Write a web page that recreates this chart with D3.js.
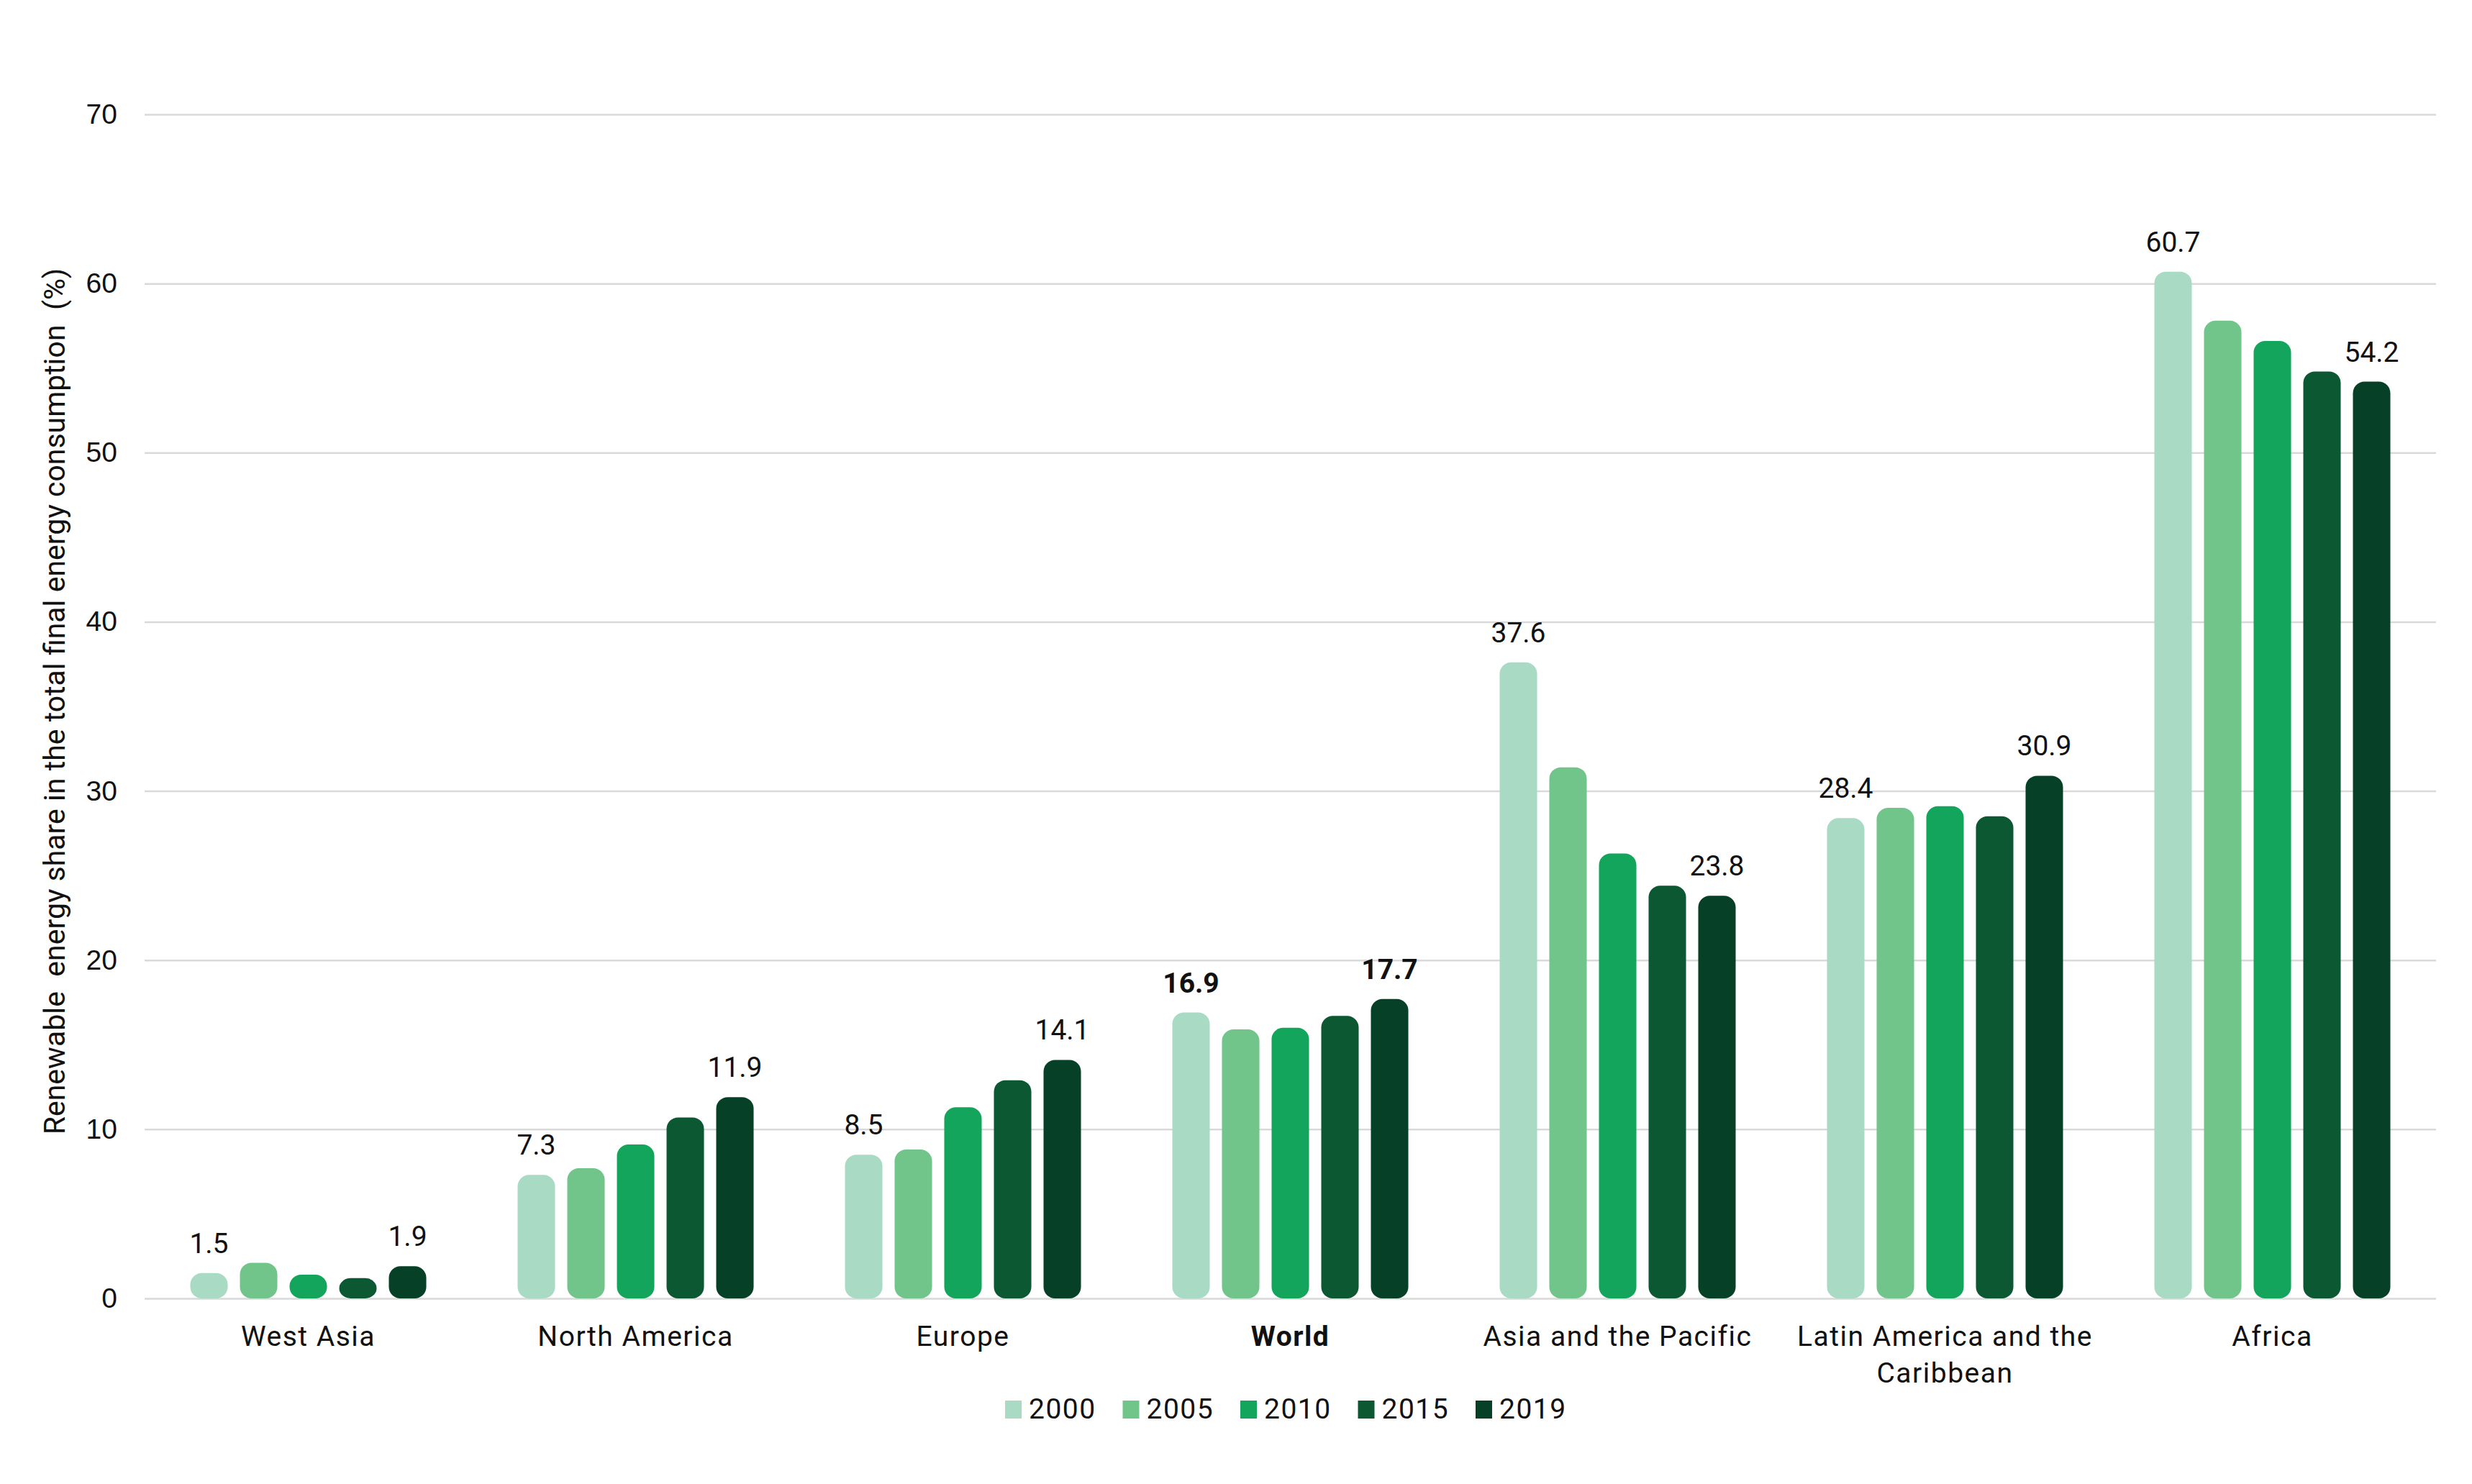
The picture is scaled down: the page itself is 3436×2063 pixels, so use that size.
<!DOCTYPE html>
<html>
<head>
<meta charset="utf-8">
<script src="https://cdn.jsdelivr.net/npm/d3@7"></script>
<style>
  body { margin: 0; background: #fff; }
  svg { display: block; font-family: Roboto, "Noto Sans", sans-serif; }
</style>
</head>
<body>
<svg id="chart"></svg>
<script>
var width = 3436, height = 2063;

// datos
var regions = ["West Asia", "North America", "Europe", "World", "Asia and the Pacific", "Latin America and the Caribbean", "Africa"];
var years = ["2000", "2005", "2010", "2015", "2019"];
var colors = ["#a9dac3", "#71c58a", "#13a55b", "#0c5833", "#064127"];
var v2000 = [1.5, 7.3, 8.5, 16.9, 37.6, 28.4, 60.7];
var v2005 = [2.1, 7.7, 8.8, 15.9, 31.4, 29.0, 57.8];
var v2010 = [1.4, 9.1, 11.3, 16.0, 26.3, 29.1, 56.6];
var v2015 = [1.2, 10.7, 12.9, 16.7, 24.4, 28.5, 54.8];
var v2019 = [1.9, 11.9, 14.1, 17.7, 23.8, 30.9, 54.2];
var yTicks = [0, 10, 20, 30, 40, 50, 60, 70];
var yTitle = "Renewable  energy share in the total final energy consumption  (%)";

var series = [v2000, v2005, v2010, v2015, v2019];

var margin = { top: 159, right: 50, bottom: 258, left: 201 };

var svg = d3.select("#chart")
  .attr("width", width)
  .attr("height", height);

var x0 = d3.scaleBand()
  .domain(regions)
  .range([margin.left, width - margin.right])
  .padding(0);

var x1 = d3.scaleBand()
  .domain(years)
  .range([0, x0.bandwidth()])
  .paddingInner(0.246)
  .paddingOuter(0.92);

var y = d3.scaleLinear()
  .domain([0, 70])
  .range([height - margin.bottom, margin.top]);

// lineas de la grilla
var yAxis = d3.axisLeft(y)
  .tickValues(yTicks)
  .tickSize(-(width - margin.right - margin.left))
  .tickPadding(38);

var gy = svg.append("g")
  .attr("transform", "translate(" + margin.left + ",0)")
  .call(yAxis);
gy.select(".domain").remove();
gy.selectAll(".tick line")
  .attr("stroke", "#d9d9d9")
  .attr("stroke-width", 2.5);
gy.selectAll(".tick text")
  .attr("font-size", 39)
  .attr("fill", "#111");

// titulo del eje y
svg.append("text")
  .attr("transform", "translate(90," + 975 + ") rotate(-90)")
  .attr("text-anchor", "middle")
  .attr("font-size", 41)
  .attr("fill", "#111")
  .style("white-space", "pre")
  .text(yTitle);

// barras
var rows = [];
regions.forEach(function (r, i) {
  years.forEach(function (yr, j) {
    rows.push({ region: r, year: yr, value: series[j][i], idx: j });
  });
});

svg.append("g")
  .selectAll("rect")
  .data(rows)
  .join("rect")
  .attr("x", function (d) { return x0(d.region) + x1(d.year); })
  .attr("y", function (d) { return y(d.value); })
  .attr("width", x1.bandwidth())
  .attr("height", function (d) { return y(0) - y(d.value); })
  .attr("rx", 16)
  .attr("fill", function (d) { return colors[d.idx]; });

// etiquetas de valor (solo 2000 y 2019)
svg.append("g")
  .selectAll("text")
  .data(rows.filter(function (d) { return d.year === "2000" || d.year === "2019"; }))
  .join("text")
  .attr("x", function (d) { return x0(d.region) + x1(d.year) + x1.bandwidth() / 2; })
  .attr("y", function (d) { return y(d.value) - 28; })
  .attr("text-anchor", "middle")
  .attr("font-size", 39)
  .attr("font-weight", function (d) { return d.region === "World" ? "bold" : "normal"; })
  .attr("fill", "#111")
  .text(function (d) { return d.value.toFixed(1); });

// etiquetas de categorias
var catLines = {
  "Latin America and the Caribbean": ["Latin America and the", "Caribbean"]
};
var cat = svg.append("g")
  .selectAll("text")
  .data(regions)
  .join("text")
  .attr("x", function (d) { return x0(d) + x0.bandwidth() / 2; })
  .attr("y", 1871)
  .attr("text-anchor", "middle")
  .attr("font-size", 39)
  .attr("letter-spacing", 1.5)
  .attr("font-weight", function (d) { return d === "World" ? "bold" : "normal"; })
  .attr("fill", "#111");
cat.each(function (d) {
  var lines = catLines[d] || [d];
  var t = d3.select(this);
  lines.forEach(function (l, k) {
    t.append("tspan")
      .attr("x", x0(d) + x0.bandwidth() / 2)
      .attr("dy", k === 0 ? 0 : 51)
      .text(l);
  });
});

// leyenda
var legend = svg.append("g")
  .attr("transform", "translate(1397,1947)");
var item = legend.selectAll("g")
  .data(years)
  .join("g")
  .attr("transform", function (d, i) { return "translate(" + (i * 163.5) + ",0)"; });
item.append("rect")
  .attr("width", 23)
  .attr("height", 25)
  .attr("fill", function (d, i) { return colors[i]; });
item.append("text")
  .attr("x", 33)
  .attr("y", 25)
  .attr("font-size", 39)
  .attr("letter-spacing", 1.5)
  .attr("fill", "#111")
  .text(function (d) { return d; });
</script>
</body>
</html>
